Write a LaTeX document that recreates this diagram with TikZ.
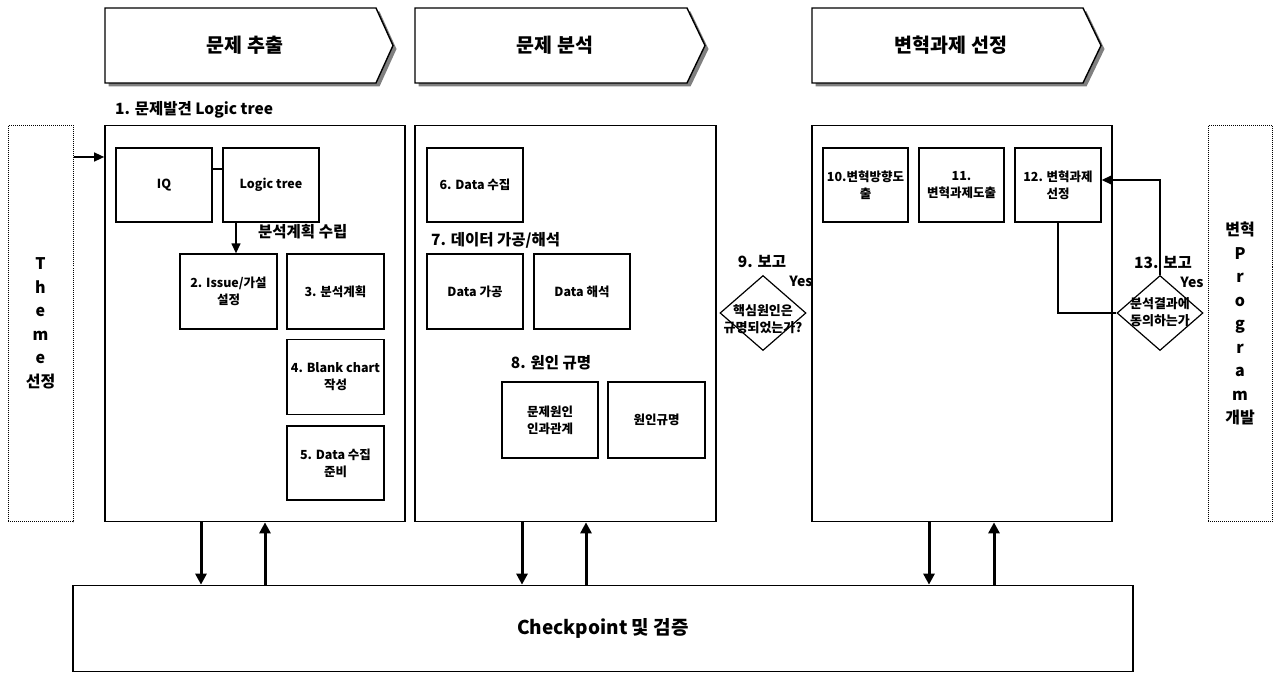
\documentclass[tikz,border=0pt]{standalone}
\usepackage{fontspec}
\setmainfont{Noto Sans CJK KR}
\usetikzlibrary{arrows.meta,shapes.geometric}
\begin{document}
\begin{tikzpicture}[x=1pt,y=-1pt,
  mainbox/.style={draw, line width=1.7pt, inner sep=0pt},
  ibox/.style={draw, line width=1.3pt, inner sep=1pt, align=center, font=\bfseries\fontsize{12.5}{17}\selectfont},
  sidebox/.style={draw, densely dotted, line width=1pt, align=center, font=\bfseries\fontsize{16}{23.5}\selectfont},
  hdrshape/.style={draw, line width=1.4pt, fill=white},
  hdrshadow/.style={fill=black!50},
  hdrtext/.style={font=\bfseries\fontsize{19.5}{24}\selectfont},
  lbl/.style={font=\bfseries\fontsize{15.5}{18}\selectfont, inner sep=0pt},
  yeslbl/.style={font=\bfseries\fontsize{14}{16}\selectfont, inner sep=0pt},
  dia/.style={draw, diamond, line width=1.2pt, inner sep=0pt, minimum width=86pt, minimum height=75pt},
  diatext/.style={align=center, inner sep=0pt, font=\bfseries\fontsize{13}{17.5}\selectfont},
  bigarrow/.style={line width=3pt, -{Triangle[width=11pt,length=11pt]}},
  thinarrow/.style={line width=1.3pt, -{Triangle[width=9pt,length=10pt]}},
  thinline/.style={line width=1.3pt}
]
\path[use as bounding box, fill=white] (0,0) rectangle (1280,682);

% header chevrons
\foreach \l/\r/\t in {105/376/393, 415/687/705, 812/1083/1101}{
  \fill[hdrshadow] (\l+3.5,11.5) -- (\r+3.5,11.5) -- (\t+3.5,49) -- (\r+3.5,86.5) -- (\l+3.5,86.5) -- cycle;
  \draw[hdrshape] (\l,8) -- (\r,8) -- (\t,45.5) -- (\r,83) -- (\l,83) -- cycle;
}
\node[hdrtext] (h1) at (245,45) {문제 추출};
\node[hdrtext] (h2) at (555,45) {문제 분석};
\node[hdrtext] (h3) at (951,45) {변혁과제 선정};

% main boxes
\node[mainbox, minimum width=300pt, minimum height=396pt] (b1) at (255,323.5) {};
\node[mainbox, minimum width=301pt, minimum height=396pt] (b2) at (565.5,323.5) {};
\node[mainbox, minimum width=300pt, minimum height=396pt] (b3) at (962,323.5) {};
\node[sidebox, minimum width=65pt, minimum height=396pt] (theme) at (40.5,323.5) {T\\h\\e\\m\\e\\선정};
\node[sidebox, minimum width=64pt, minimum height=396pt] (prog) at (1240,323.5) {변혁\\P\\r\\o\\g\\r\\a\\m\\개발};
\node[mainbox, minimum width=1060pt, minimum height=86pt, font=\bfseries\fontsize{19}{22}\selectfont] (check) at (603,628.5) {Checkpoint 및 검증};

% labels
\node[lbl, anchor=west] (l1) at (115,110) {1. 문제발견 Logic tree};
\node[lbl, anchor=west] (lplan) at (258,232) {분석계획 수립};
\node[lbl, anchor=west] (l7) at (431,240) {7. 데이터 가공/해석};
\node[lbl] (l8) at (551,363) {8. 원인 규명};
\node[lbl] (l9) at (762,262) {9. 보고};
\node[yeslbl] (y9) at (801,281) {Yes};
\node[lbl] (l13) at (1163,263) {13. 보고};
\node[yeslbl] (y13) at (1192,282) {Yes};

% box 1 contents
\node[ibox, minimum width=96pt, minimum height=74pt] (iq) at (164,185) {IQ};
\node[ibox, minimum width=96pt, minimum height=74pt] (lt) at (271,185) {Logic tree};
\node[ibox, minimum width=97pt, minimum height=75pt] (s2) at (228.5,291.5) {2. Issue/가설\\설정};
\node[ibox, minimum width=97pt, minimum height=75pt] (s3) at (335.5,291.5) {3. 분석계획};
\node[ibox, minimum width=97pt, minimum height=75pt] (s4) at (335.5,377) {4. Blank chart\\작성};
\node[ibox, minimum width=97pt, minimum height=74pt] (s5) at (335.5,463) {5. Data 수집\\준비};

% box 2 contents
\node[ibox, minimum width=96pt, minimum height=74pt] (s6) at (475,185) {6. Data 수집};
\node[ibox, minimum width=96pt, minimum height=75pt] (dp) at (475,291.5) {Data 가공};
\node[ibox, minimum width=96pt, minimum height=75pt] (da) at (582,291.5) {Data 해석};
\node[ibox, minimum width=96pt, minimum height=76pt] (pc) at (550,420) {문제원인\\인과관계};
\node[ibox, minimum width=97pt, minimum height=76pt] (cr) at (656.5,420) {원인규명};

% box 3 contents
\node[ibox, minimum width=85pt, minimum height=74pt] (s10) at (865.5,185) {10.변혁방향도\\출};
\node[ibox, minimum width=85pt, minimum height=74pt] (s11) at (961.5,185) {11.\\변혁과제도출};
\node[ibox, minimum width=86pt, minimum height=74pt] (s12) at (1058,185) {12. 변혁과제\\선정};

% diamonds
\node[dia] (d9) at (763,313) {};
\node[diatext] (d9t) at (763,319) {핵심원인은\\규명되었는가?};
\node[dia] (d13) at (1160,313) {};
\node[diatext] (d13t) at (1160,312) {분석결과에\\동의하는가};

% connectors
\draw[thinarrow] ([yshift=166.5pt]theme.east) -- ([yshift=166.5pt]b1.west);
\draw[thinline] ([yshift=16pt]iq.east) -- ([yshift=16pt]lt.west);
\draw[thinarrow] ([xshift=-35pt]lt.south) -- ([xshift=-35pt]lt.south |- s2.north);
\draw[thinline] (s12.south) |- (d13.west);
\draw[thinarrow] (d13.north) |- ([yshift=5pt]s12.east);

\draw[bigarrow] ([xshift=-54pt]b1.south) -- ([xshift=-54pt]b1.south |- check.north);
\draw[bigarrow] ([xshift=10pt]b1.south |- check.north) -- ([xshift=10pt]b1.south);
\draw[bigarrow] ([xshift=-43.5pt]b2.south) -- ([xshift=-43.5pt]b2.south |- check.north);
\draw[bigarrow] ([xshift=20.5pt]b2.south |- check.north) -- ([xshift=20.5pt]b2.south);
\draw[bigarrow] ([xshift=-33pt]b3.south) -- ([xshift=-33pt]b3.south |- check.north);
\draw[bigarrow] ([xshift=32pt]b3.south |- check.north) -- ([xshift=32pt]b3.south);
\end{tikzpicture}
\end{document}
